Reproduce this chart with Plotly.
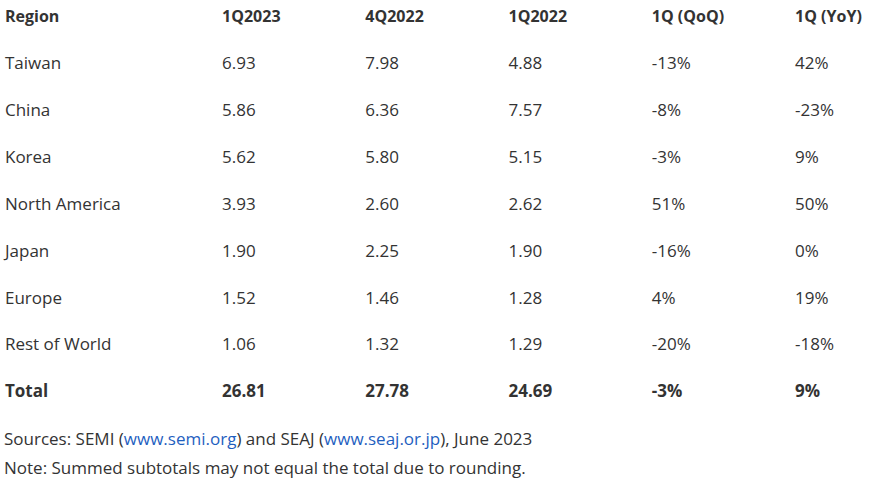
import plotly.graph_objects as go

header = ['Region', '1Q2023', '4Q2022', '1Q2022', '1Q (QoQ)', '1Q (YoY)']
regions = ['Taiwan', 'China', 'Korea', 'North America', 'Japan', 'Europe', 'Rest of World', 'Total']
q1_2023 = ['6.93', '5.86', '5.62', '3.93', '1.90', '1.52', '1.06', '26.81']
q4_2022 = ['7.98', '6.36', '5.80', '2.60', '2.25', '1.46', '1.32', '27.78']
q1_2022 = ['4.88', '7.57', '5.15', '2.62', '1.90', '1.28', '1.29', '24.69']
qoq = ['-13%', '-8%', '-3%', '51%', '-16%', '4%', '-20%', '-3%']
yoy = ['42%', '-23%', '9%', '50%', '0%', '19%', '-18%', '9%']

TEXT = '#333333'
LINK = '#1f5fbf'
FONT = 'Open Sans'
SIZE = 17
HEAD_SIZE = 16

rows = [header[0]] + regions
value_cols = [q1_2023, q4_2022, q1_2022, qoq, yoy]


def b(s, size=None):
    if size:
        return '<b><span style="font-size:%dpx">%s</span></b>' % (size, s)
    return '<b>' + s + '</b>'


def cell_text(head, col):
    return [b(head, HEAD_SIZE)] + col[:-1] + [b(col[-1])]


fig = go.Figure()

# first column on its own axis so it can sit at the left edge
fig.add_trace(go.Scatter(
    x=[header[0]] * len(rows),
    y=rows,
    xaxis='x2',
    mode='text',
    text=cell_text(header[0], regions),
    textposition='middle right',
    textfont=dict(family=FONT, size=SIZE, color=TEXT),
    cliponaxis=False,
    showlegend=False,
    hoverinfo='skip',
))

for name, col in zip(header[1:], value_cols):
    fig.add_trace(go.Scatter(
        x=[name] * len(rows),
        y=rows,
        mode='text',
        text=cell_text(name, col),
        textposition='middle right',
        textfont=dict(family=FONT, size=SIZE, color=TEXT),
        cliponaxis=False,
        showlegend=False,
        hoverinfo='skip',
    ))

fig.add_annotation(
    text=('Sources: SEMI (<span style="color:%s">www.semi.org</span>) and SEAJ '
          '(<span style="color:%s">www.seaj.or.jp</span>), June 2023') % (LINK, LINK),
    xref='paper', yref='paper', x=0.0, y=1 - 438 / 480, yanchor='middle', xanchor='left',
    xshift=2, showarrow=False, font=dict(family=FONT, size=SIZE, color=TEXT),
)
fig.add_annotation(
    text='Note: Summed subtotals may not equal the total due to rounding.',
    xref='paper', yref='paper', x=0.0, y=1 - 467 / 480, yanchor='middle', xanchor='left',
    xshift=2, showarrow=False, font=dict(family=FONT, size=SIZE, color=TEXT),
)

hidden = dict(showticklabels=False, showgrid=False, zeroline=False, showline=False, ticks='')

fig.update_layout(
    width=872,
    height=480,
    margin=dict(l=0, r=0, t=0, b=0),
    paper_bgcolor='white',
    plot_bgcolor='white',
    font=dict(family=FONT, size=SIZE, color=TEXT),
    xaxis=dict(
        type='category',
        categoryorder='array',
        categoryarray=header[1:],
        range=[-1.550, 4.537],
        **hidden,
    ),
    xaxis2=dict(
        type='category',
        categoryorder='array',
        categoryarray=header[:1],
        range=[-0.0057, 0.9943],
        overlaying='x',
        **hidden,
    ),
    yaxis=dict(
        type='category',
        categoryorder='array',
        categoryarray=rows,
        range=[9.856, -0.384],
        **hidden,
    ),
)

fig.write_html('out.html', config={'displayModeBar': False},
               post_script="document.body.style.margin='0';")
